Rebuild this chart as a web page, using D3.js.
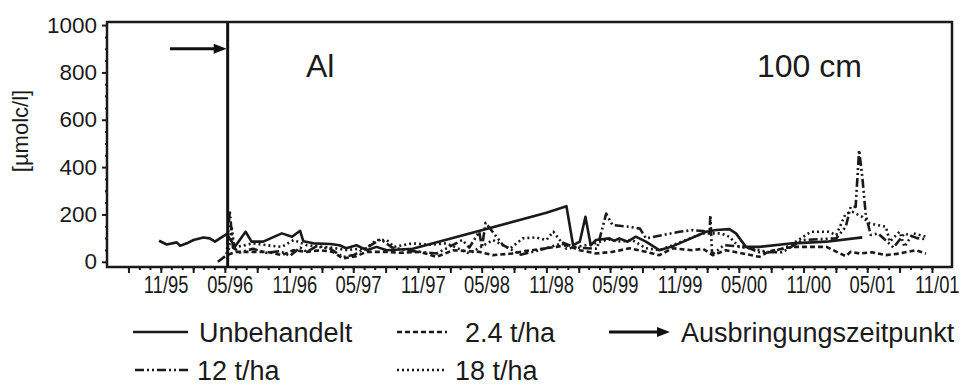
<!DOCTYPE html>
<meta charset="utf-8">
<style>
body { margin: 0; background: #fff; }
svg { display: block; font-family: "Liberation Sans", Arial, sans-serif; }
.axis .domain { display: none; }
.axis line { stroke: #1a1a1a; stroke-width: 2; }
.axis text { fill: #1a1a1a; }
.serie { fill: none; stroke: #1a1a1a; stroke-width: 2.6; stroke-linejoin: round; }
</style>
<svg width="964" height="385"></svg>
<script src="https://d3js.org/d3.v7.min.js"></script>
<script>

// Unbehandelt (solid)
var unbehDates = ["1995-10-27","1995-11-18","1995-12-16","1995-12-26","1996-01-14","1996-02-02","1996-03-01","1996-03-19","1996-04-03","1996-04-17","1996-05-06","1996-05-30","1996-06-29","1996-07-16","1996-08-18","1996-10-10","1996-11-08","1996-12-01","1996-12-10","1997-01-08","1997-02-25","1997-03-23","1997-04-11","1997-05-10","1997-06-08","1997-07-06","1997-08-04","1997-09-11","1997-10-17","1998-11-01","1998-12-28","1999-01-16","1999-02-04","1999-02-20","1999-03-07","1999-03-22","1999-04-29","1999-05-13","1999-05-27","1999-06-20","1999-07-13","1999-08-11","1999-09-18","1999-10-26","1999-11-14","2000-01-29","2000-02-27","2000-04-04","2000-04-23","2000-05-21","2000-06-28","2000-10-01","2001-01-05","2001-04-17"];
var unbehVals = [89,73,82,68,78,92,103,99,85,99,117,65,127,85,85,120,106,131,87,78,75,70,57,70,49,63,49,52,55,207,235,70,85,190,70,92,99,88,99,85,106,85,49,66,78,127,134,138,120,63,63,78,85,103];

// 2.4 t/ha (dashed)
var t24Dates = ["1996-05-10","1996-06-03","1996-07-20","1996-08-28","1996-10-10","1996-11-12","1996-12-20","1997-01-27","1997-03-04","1997-04-02","1997-05-10","1997-06-08","1997-08-04","1997-09-11","1997-11-06","1997-12-24","1998-02-10","1998-04-24","1998-06-02","1998-07-27","1998-09-05","1998-11-01","1998-12-28","1999-02-04","1999-03-22","1999-05-08","1999-06-25","1999-08-11","1999-09-18","1999-10-26","1999-12-21","2000-01-20","2000-02-17","2000-03-25","2000-05-02","2000-06-28","2000-07-27","2000-10-01","2001-01-05","2001-03-01","2001-03-15","2001-04-10","2001-05-15","2001-06-23","2001-08-01","2001-09-16","2001-10-15"];
var t24Vals = [30,42,42,42,28,49,42,49,42,14,24,42,42,38,42,21,49,42,28,35,46,57,70,49,35,42,57,42,28,57,49,55,28,49,38,21,45,63,63,24,42,35,40,28,35,49,35];

// 12 t/ha (dash-dot-dot)
var t12Dates = ["1996-04-11","1996-05-06","1996-05-15","1996-05-24","1996-06-13","1996-07-20","1996-08-28","1996-10-05","1996-11-02","1996-12-01","1996-12-20","1997-01-16","1997-02-25","1997-04-02","1997-05-05","1997-06-08","1997-07-18","1997-08-20","1997-10-17","1997-12-24","1998-03-07","1998-03-27","1998-04-24","1998-05-02","1998-05-12","1998-07-01","1998-08-20","1998-10-15","1998-12-20","1999-01-20","1999-03-25","1999-04-20","1999-05-08","1999-06-25","1999-07-25","1999-08-11","1999-11-14","1999-12-21","2000-01-20","2000-02-08","2000-02-10","2000-02-15","2000-03-20","2000-05-21","2000-06-28","2000-09-01","2000-10-29","2001-02-02","2001-03-01","2001-03-15","2001-03-29","2001-04-08","2001-04-17","2001-04-27","2001-05-11","2001-06-01","2001-07-15","2001-08-15","2001-09-20","2001-10-15"];
var t12Vals = [0,28,215,60,40,55,38,45,25,60,42,65,55,20,30,60,95,60,45,35,92,60,127,60,165,70,30,50,80,60,55,204,155,148,140,99,127,134,130,120,197,30,70,63,40,40,92,99,148,232,232,472,359,197,113,120,60,120,100,95];

// 18 t/ha (dotted)
var t18Dates = ["1996-05-12","1996-05-20","1996-05-28","1996-07-20","1996-08-28","1996-10-10","1996-11-12","1996-12-20","1997-02-25","1997-04-11","1997-06-08","1997-07-06","1997-08-04","1997-08-25","1997-10-17","1997-12-05","1998-01-21","1998-03-27","1998-06-02","1998-07-20","1998-08-26","1998-10-03","1998-11-01","1998-11-21","1998-12-28","1999-03-21","1999-04-25","1999-06-01","1999-07-03","1999-08-11","1999-09-18","1999-10-26","2000-01-20","2000-03-11","2000-04-04","2000-05-02","2000-06-01","2000-07-27","2000-09-08","2000-10-10","2000-11-22","2001-01-12","2001-02-02","2001-03-01","2001-03-20","2001-04-17","2001-05-08","2001-06-23","2001-07-04","2001-08-01","2001-08-15","2001-09-08","2001-10-15"];
var t18Vals = [50,150,60,78,70,63,92,70,60,50,57,92,92,63,78,72,78,35,92,55,99,103,92,127,55,78,95,85,92,57,49,70,120,120,106,63,57,40,57,85,127,127,113,204,211,190,162,148,85,127,63,120,106];

var yTicks = [0, 200, 400, 600, 800, 1000];
var labelMonths = [5, 11]; // labelled months: 05 and 11

var svg = d3.select("svg"),
    plotLeft = 107, plotRight = 952, plotTop = 22, plotBottom = 267,
    parse = d3.timeParse("%Y-%m-%d");

var x = d3.scaleTime()
    .domain([new Date(1995, 5, 1), new Date(2001, 11, 28)])
    .range([plotLeft, plotRight]);

var y = d3.scaleLinear()
    .domain([-22, 1013])
    .range([plotBottom, plotTop]);

function zip(dates, vals) {
  return dates.map(function(d, i) { return {date: parse(d), v: vals[i]}; });
}

// legend slots: line start/end, text x, row y
var series = [
  {name: "Unbehandelt", data: zip(unbehDates, unbehVals), dash: null,          lx: [133, 188], tx: 199, ly: 332},
  {name: "2.4 t/ha",    data: zip(t24Dates, t24Vals),     dash: "5,3",         lx: [397, 447], tx: 465, ly: 332},
  {name: "12 t/ha",     data: zip(t12Dates, t12Vals),     dash: "9,3,2,3,2,3", lx: [135, 190], tx: 197, ly: 370},
  {name: "18 t/ha",     data: zip(t18Dates, t18Vals),     dash: "2,3",         lx: [397, 447], tx: 455, ly: 370}
];

// y axis: major ticks + minor ticks every 50
svg.append("g")
    .attr("class", "axis")
    .attr("transform", "translate(" + plotLeft + ",0)")
    .call(d3.axisLeft(y).tickValues(d3.range(50, 1001, 50).filter(function(v) { return v % 200; })).tickSize(2).tickFormat(""));

svg.append("g")
    .attr("class", "axis")
    .attr("transform", "translate(" + plotLeft + ",0)")
    .call(d3.axisLeft(y).tickValues(yTicks).tickSize(5).tickPadding(5).tickFormat(d3.format("d")))
    .selectAll("text")
      .style("font-size", "22.5px");

// x axis: monthly minor ticks, quarterly major ticks, labels every half year
var months = d3.timeMonth.range(new Date(1995, 7, 1), new Date(2001, 10, 2));
var quarters = months.filter(function(d, i) { return i % 3 === 0; });

svg.append("g")
    .attr("class", "axis")
    .attr("transform", "translate(0," + plotBottom + ")")
    .call(d3.axisBottom(x).tickValues(months).tickSize(3).tickFormat(""));

var fmt = d3.timeFormat("%m/%y");
svg.append("g")
    .attr("class", "axis")
    .attr("transform", "translate(0," + plotBottom + ")")
    .call(d3.axisBottom(x).tickValues(quarters).tickSize(6).tickPadding(4)
      .tickFormat(function(d) { return labelMonths.indexOf(d.getMonth() + 1) >= 0 ? fmt(d) : ""; }))
    .selectAll("text")
      .style("font-size", "23px")
      .attr("x", 6)
      .attr("transform", "scale(0.8,1)");

// frame
svg.append("rect")
    .attr("x", plotLeft).attr("y", plotTop)
    .attr("width", plotRight - plotLeft).attr("height", plotBottom - plotTop)
    .attr("fill", "none")
    .attr("stroke", "#1a1a1a")
    .attr("stroke-width", 2.5);

var line = d3.line()
    .x(function(d) { return x(d.date); })
    .y(function(d) { return y(d.v); });

svg.selectAll(".serie")
  .data(series)
  .enter().append("path")
    .attr("class", "serie")
    .attr("stroke-dasharray", function(d) { return d.dash; })
    .attr("d", function(d) { return line(d.data); });

// application date
var applied = new Date(1996, 4, 9);
svg.append("line")
    .attr("x1", x(applied)).attr("x2", x(applied))
    .attr("y1", plotTop).attr("y2", plotBottom)
    .attr("stroke", "#111").attr("stroke-width", 3);

function arrow(g, x1, x2, yy) {
  g.append("line")
      .attr("x1", x1).attr("x2", x2 - 10)
      .attr("y1", yy).attr("y2", yy)
      .attr("stroke", "#111").attr("stroke-width", 3);
  g.append("path")
      .attr("d", "M" + x2 + "," + yy + "L" + (x2 - 13) + "," + (yy - 5) + "L" + (x2 - 13) + "," + (yy + 5) + "Z")
      .attr("fill", "#111");
}
arrow(svg, x(new Date(1995, 10, 27)), x(applied) - 1, y(900));

svg.append("text")
    .attr("x", 306).attr("y", 77)
    .style("font-size", "32px").attr("fill", "#1a1a1a")
    .text("Al");

svg.append("text")
    .attr("x", 757).attr("y", 77)
    .style("font-size", "32px").attr("fill", "#1a1a1a")
    .text("100 cm");

svg.append("text")
    .attr("transform", "translate(28,131) rotate(-90)")
    .attr("text-anchor", "middle")
    .style("font-size", "22px").attr("fill", "#1a1a1a")
    .text("[µmolc/l]");

// legend
var legend = svg.selectAll(".legend")
  .data(series)
  .enter().append("g")
    .attr("class", "legend")
    .attr("transform", function(d) { return "translate(0," + d.ly + ")"; });

legend.append("line")
    .attr("x1", function(d) { return d.lx[0]; })
    .attr("x2", function(d) { return d.lx[1]; })
    .attr("stroke", "#1a1a1a")
    .attr("stroke-width", 2.5)
    .attr("stroke-dasharray", function(d) { return d.dash; });

legend.append("text")
    .attr("x", function(d) { return d.tx; })
    .attr("dy", "0.36em")
    .style("font-size", "27px")
    .attr("fill", "#1a1a1a")
    .text(function(d) { return d.name; });

var arrowLegend = svg.append("g").attr("transform", "translate(0,332)");
arrow(arrowLegend, 609, 670, 0);
arrowLegend.append("text")
    .attr("x", 681).attr("dy", "0.36em")
    .style("font-size", "27px")
    .attr("fill", "#1a1a1a")
    .text("Ausbringungszeitpunkt");

</script>
